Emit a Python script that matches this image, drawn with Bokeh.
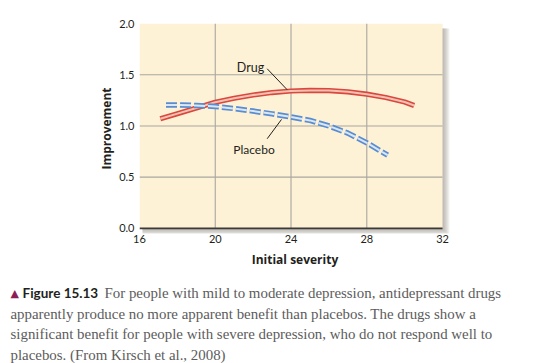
from bokeh.plotting import figure
from bokeh.layouts import column
from bokeh.models import Range1d, Label, NumeralTickFormatter
from bokeh.core.properties import value
from bokeh.embed import file_html
from bokeh.resources import INLINE

# ---------------- data ----------------
drug_severity = [17.1, 18, 19, 20, 21, 22, 23, 24, 25, 26, 27, 28, 29, 30, 30.5]
drug_improvement = [1.07, 1.12, 1.175, 1.232, 1.27, 1.302, 1.326, 1.341, 1.347, 1.345,
                    1.333, 1.31, 1.278, 1.234, 1.20]
placebo_severity = [17.4, 18, 19, 20, 21, 22, 23, 24, 25, 26, 27, 28, 29.1]
placebo_improvement = [1.205, 1.205, 1.2, 1.19, 1.17, 1.145, 1.118, 1.088, 1.054, 1.0,
                       0.93, 0.835, 0.715]
x_ticks = [16, 20, 24, 28, 32]
y_ticks = [0.0, 0.5, 1.0, 1.5, 2.0]
series_names = ["Drug", "Placebo"]
x_title = "Initial severity"
y_title = "Improvement"
caption_mark = "\u25B2"
caption_tag = "Figure 15.13"
caption_lines = [
    "For people with mild to moderate depression, antidepressant drugs",
    "apparently produce no more apparent benefit than placebos. The drugs show a",
    "significant benefit for people with severe depression, who do not respond well to",
    "placebos. (From Kirsch et al., 2008)",
]

# ---------------- layout ----------------
W = 553
H1 = 272                      # chart part
H2 = 363 - H1                 # caption part
FL, FT = 139, 23              # frame left / top in px
X0, X1 = 16, 32.42
Y0, Y1 = -0.05, 2.0
PX_X = 18.94                  # px per x unit
PX_Y = 102.5                  # px per y unit
FW = round((X1 - X0) * PX_X)
FH = round((Y1 - Y0) * PX_Y)

p = figure(width=W, height=H1, output_backend="svg", toolbar_location=None,
           x_range=Range1d(X0, X1), y_range=Range1d(Y0, Y1),
           min_border_left=FL, min_border_right=W - FL - FW,
           min_border_top=FT, min_border_bottom=H1 - FT - FH)
p.frame_align = False
p.title.visible = False
p.outline_line_color = None
p.background_fill_color = "white"
p.border_fill_color = "white"
p.xgrid.grid_line_color = None
p.ygrid.grid_line_color = None


def to_data(fx, fy):
    """pixel -> data coordinate"""
    return X0 + (fx - FL) / PX_X, Y1 - (fy - FT) / PX_Y


xmin, xmax = x_ticks[0], x_ticks[-1]
ymin, ymax = y_ticks[0], y_ticks[-1]

# drop shadow
for k in range(1, 8):
    dx, dy = k / PX_X, k / PX_Y
    p.quad(left=[xmin + 3 / PX_X], right=[xmax + dx], bottom=[ymin - dy], top=[ymax - 5 / PX_Y],
           fill_color="#5f5c48", fill_alpha=0.07, line_color=None)

# beige panel
p.quad(left=[xmin], right=[xmax], bottom=[ymin], top=[ymax],
       fill_color="#fdf1d6", line_color=None)

# grid lines
gx = x_ticks[1:-1]
p.segment(x0=gx, y0=[ymin] * len(gx), x1=gx, y1=[ymax] * len(gx),
          line_color="#a9a79f", line_width=1.1)
gy = y_ticks[1:-1]
p.segment(x0=[xmin] * len(gy), y0=gy, x1=[xmax] * len(gy), y1=gy,
          line_color="#a9a79f", line_width=1.1)
# x axis line
p.segment(x0=[xmin], y0=[ymin], x1=[xmax], y1=[ymin], line_color="#3a3a3a", line_width=1.6)

# curves
p.line(drug_severity, drug_improvement, line_width=5.2, line_color="#d9473f")
p.line(drug_severity, drug_improvement, line_width=2, line_color="#f5c2b2")
p.line(placebo_severity, placebo_improvement, line_width=5.5, line_color="#5a8dd0",
       line_dash="11 3")
p.line(placebo_severity, placebo_improvement, line_width=2, line_color="#dbe7f6",
       line_dash="11 3")

# annotations
lab_font = "Lato"
dx_, dy_ = to_data(250, 67)
p.add_layout(Label(x=dx_, y=dy_, text=series_names[0], text_align="center",
                   text_baseline="alphabetic", text_font=lab_font,
                   text_font_size="12.5px", text_color="#231f20"))
a0 = to_data(266.7, 68.3)
a1 = to_data(286.7, 89.3)
p.segment(x0=[a0[0]], y0=[a0[1]], x1=[a1[0]], y1=[a1[1]], line_color="#231f20", line_width=1)

px_, py_ = to_data(253.5, 149)
p.add_layout(Label(x=px_, y=py_, text=series_names[1], text_align="center",
                   text_baseline="alphabetic", text_font=lab_font,
                   text_font_size="12px", text_color="#231f20"))
b0 = to_data(266.7, 138.3)
b1 = to_data(281, 119)
p.segment(x0=[b0[0]], y0=[b0[1]], x1=[b1[0]], y1=[b1[1]], line_color="#231f20", line_width=1)

# axes
for ax in (p.xaxis[0], p.yaxis[0]):
    ax.axis_line_color = None
    ax.major_tick_line_color = None
    ax.minor_tick_line_color = None
    ax.major_tick_out = 0
    ax.major_tick_in = 0
    ax.major_label_text_font = "Lato"
    ax.major_label_text_font_size = "11px"
    ax.major_label_text_color = "#231f20"
    ax.axis_label_text_font = "Open Sans"
    ax.axis_label_text_font_style = "bold"
    ax.axis_label_text_font_size = "12px"
    ax.axis_label_text_color = "#231f20"

p.xaxis.ticker = x_ticks
p.yaxis.ticker = y_ticks
p.yaxis.formatter = NumeralTickFormatter(format="0.0")
p.xaxis.axis_label = x_title
p.yaxis.axis_label = y_title
p.xaxis.major_label_standoff = 1
p.yaxis.major_label_standoff = 5
p.xaxis.axis_label_standoff = 5
p.yaxis.axis_label_standoff = 1

# ---------------- caption ----------------
c = figure(width=W, height=H2, output_backend="svg", toolbar_location=None,
           x_range=Range1d(0, W), y_range=Range1d(363, H1),
           min_border_left=0, min_border_right=0, min_border_top=0, min_border_bottom=0)
c.frame_align = False
c.axis.visible = False
c.grid.visible = False
c.title.visible = False
c.outline_line_color = None
c.background_fill_color = "white"
c.border_fill_color = "white"

line_base = [292.5, 313, 333.5, 354]
c.text(x=[10], y=[line_base[0]], text=[caption_mark], text_font=value("DejaVu Sans"),
       text_font_size="11px", text_color="#8c1d55", text_baseline="alphabetic")
c.text(x=[22], y=[line_base[0]], text=[caption_tag], text_font=value("Lato"),
       text_font_style="bold", text_font_size="13.5px", text_color="#231f20",
       text_baseline="alphabetic")
starts = [104, 10, 10, 10]
c.text(x=starts, y=line_base, text=caption_lines, text_font=value("Liberation Serif"),
       text_font_size="14.9px", text_color="#5c5c5c", text_baseline="alphabetic")

open("out.html", "w").write(file_html(column(p, c, spacing=0), INLINE))
